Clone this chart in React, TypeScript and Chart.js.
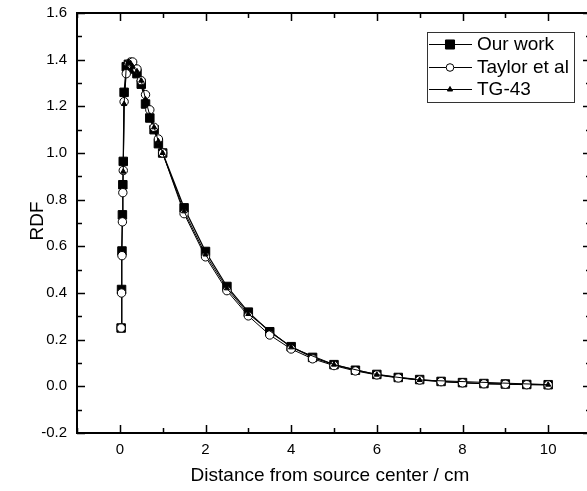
import React, { useEffect, useRef } from "react";
import { Chart, registerables } from "chart.js";
import { drawPoint } from "chart.js/helpers";
Chart.register(...registerables);

// ---- data ----
const distOur = [0.03, 0.04, 0.05, 0.06, 0.07, 0.08, 0.1, 0.15, 0.2, 0.25, 0.3, 0.4, 0.5, 0.6, 0.7, 0.8, 0.9, 1.0, 1.5, 2.0, 2.5, 3.0, 3.5, 4.0, 4.5, 5.0, 5.5, 6.0, 6.5, 7.0, 7.5, 8.0, 8.5, 9.0, 9.5, 10.0];
const rdfOur = [0.25, 0.415, 0.58, 0.735, 0.864, 0.964, 1.26, 1.37, 1.38, 1.375, 1.36, 1.34, 1.295, 1.21, 1.15, 1.1, 1.04, 1.0, 0.765, 0.578, 0.428, 0.318, 0.234, 0.17, 0.124, 0.093, 0.069, 0.051, 0.038, 0.029, 0.021, 0.016, 0.012, 0.01, 0.008, 0.007];

const distTaylor = [0.03, 0.04, 0.05, 0.06, 0.07, 0.08, 0.1, 0.15, 0.2, 0.25, 0.3, 0.4, 0.5, 0.6, 0.7, 0.8, 0.9, 1.0, 1.5, 2.0, 2.5, 3.0, 3.5, 4.0, 4.5, 5.0, 5.5, 6.0, 6.5, 7.0, 7.5, 8.0, 8.5, 9.0, 9.5, 10.0];
const rdfTaylor = [0.25, 0.4, 0.56, 0.705, 0.83, 0.925, 1.22, 1.34, 1.38, 1.39, 1.39, 1.36, 1.31, 1.25, 1.185, 1.11, 1.06, 1.0, 0.74, 0.555, 0.41, 0.302, 0.22, 0.16, 0.118, 0.089, 0.066, 0.049, 0.036, 0.027, 0.02, 0.015, 0.011, 0.009, 0.007, 0.006];

const distTG43 = [0.08, 0.1, 0.15, 0.2, 0.25, 0.3, 0.4, 0.5, 0.6, 0.7, 0.8, 0.9, 1.0, 1.5, 2.0, 2.5, 3.0, 4.0, 5.0, 6.0, 7.0, 10.0];
const rdfTG43 = [0.92, 1.21, 1.37, 1.39, 1.385, 1.37, 1.35, 1.31, 1.23, 1.16, 1.11, 1.05, 1.0, 0.75, 0.565, 0.42, 0.31, 0.167, 0.093, 0.05, 0.027, 0.007];

const seriesLabels = ["Our work", "Taylor et al", "TG-43"];
const xTitle = "Distance from source center / cm";
const yTitle = "RDF";
const xTickValues = [0, 2, 4, 6, 8, 10];
const xMinorValues = [-1, 1, 3, 5, 7, 9, 11];
const yTickValues = [-0.2, 0, 0.2, 0.4, 0.6, 0.8, 1.0, 1.2, 1.4, 1.6];
const yMinorValues = [-0.1, 0.1, 0.3, 0.5, 0.7, 0.9, 1.1, 1.3, 1.5];

const FONT = "'Liberation Sans', Arial, sans-serif";

const toXY = (xs: number[], ys: number[]) => xs.map((x, i) => ({ x, y: ys[i] }));

const frameTicksPlugin = {
  id: "frameTicks",
  beforeDatasetsDraw(chart: any) {
    const { ctx, chartArea: a, scales } = chart;
    const xs = scales.x;
    const ys = scales.y;
    ctx.save();
    ctx.strokeStyle = "#000";
    ctx.lineWidth = 1.5;
    const major = 8;
    const minor = 5;
    ctx.beginPath();
    const xt = (v: number, len: number) => {
      const px = Math.round(xs.getPixelForValue(v)) + 0.5;
      ctx.moveTo(px, a.bottom);
      ctx.lineTo(px, a.bottom - len);
      ctx.moveTo(px, a.top);
      ctx.lineTo(px, a.top + len);
    };
    const yt = (v: number, len: number) => {
      const py = Math.round(ys.getPixelForValue(v)) + 0.5;
      ctx.moveTo(a.left, py);
      ctx.lineTo(a.left + len, py);
      ctx.moveTo(a.right, py);
      ctx.lineTo(a.right - len, py);
    };
    xTickValues.forEach((v) => xt(v, major));
    xMinorValues.forEach((v) => xt(v, minor));
    yTickValues.forEach((v) => yt(v, major));
    yMinorValues.forEach((v) => yt(v, minor));
    ctx.stroke();
    ctx.lineWidth = 2;
    ctx.strokeRect(a.left, a.top, a.right - a.left, a.bottom - a.top);
    ctx.restore();
  },
  afterDraw(chart: any) {
    const { ctx } = chart;
    ctx.save();
    ctx.fillStyle = "#000";
    ctx.font = `19px ${FONT}`;
    ctx.textAlign = "center";
    ctx.textBaseline = "middle";
    ctx.fillText(xTitle, 330, 476);
    ctx.translate(38, 221);
    ctx.rotate(-Math.PI / 2);
    ctx.fillText(yTitle, 0, 0);
    ctx.restore();
  },
};

const boxLegendPlugin = {
  id: "boxLegend",
  afterDraw(chart: any) {
    const { ctx } = chart;
    const left = 427;
    const top = 32;
    const width = 147;
    const height = 70;
    ctx.save();
    ctx.fillStyle = "#fff";
    ctx.fillRect(left, top, width, height);
    ctx.strokeStyle = "#333";
    ctx.lineWidth = 1;
    ctx.strokeRect(left + 0.5, top + 0.5, width, height);
    const rowYs = [44, 67, 89];
    const legendRadius = [6.4, 3.8, 3];
    chart.data.datasets.forEach((ds: any, i: number) => {
      const y = rowYs[i];
      ctx.strokeStyle = "#000";
      ctx.lineWidth = 1;
      ctx.beginPath();
      ctx.moveTo(429, y + 0.5);
      ctx.lineTo(472, y + 0.5);
      ctx.stroke();
      ctx.fillStyle = ds.pointBackgroundColor;
      ctx.strokeStyle = "#000";
      ctx.lineWidth = 1;
      drawPoint(ctx, { pointStyle: ds.pointStyle, radius: legendRadius[i], rotation: 0, borderWidth: 1 }, 450, y + 0.5);
      ctx.fillStyle = "#000";
      ctx.font = `19px ${FONT}`;
      ctx.textBaseline = "middle";
      ctx.textAlign = "left";
      ctx.fillText(ds.label, 477, y + 1);
    });
    ctx.restore();
  },
};

export default function App() {
  const ref = useRef<HTMLCanvasElement | null>(null);
  useEffect(() => {
    if (!ref.current) return;
    const chart = new Chart(ref.current, {
      type: "line",
      data: {
        datasets: [
          {
            label: seriesLabels[0],
            data: toXY(distOur, rdfOur),
            borderColor: "#000",
            borderWidth: 1.3,
            pointStyle: "rect",
            pointRadius: 6,
            pointBackgroundColor: "#000",
            pointBorderColor: "#000",
            pointBorderWidth: 1,
            order: 3,
          },
          {
            label: seriesLabels[1],
            data: toXY(distTaylor, rdfTaylor),
            borderColor: "#000",
            borderWidth: 1,
            pointStyle: "circle",
            pointRadius: 4.2,
            pointBackgroundColor: "#fff",
            pointBorderColor: "#000",
            pointBorderWidth: 1,
            order: 2,
          },
          {
            label: seriesLabels[2],
            data: toXY(distTG43, rdfTG43),
            borderColor: "#000",
            borderWidth: 1,
            pointStyle: "triangle",
            pointRadius: 3,
            pointBackgroundColor: "#000",
            pointBorderColor: "#000",
            pointBorderWidth: 1,
            order: 1,
          },
        ],
      },
      options: {
        animation: false,
        responsive: false,
        devicePixelRatio: 1,
        events: [],
        layout: { padding: { left: 0, top: 13, right: 9, bottom: 0 } },
        plugins: { legend: { display: false }, tooltip: { enabled: false } },
        scales: {
          x: {
            type: "linear",
            min: -1,
            max: 11,
            afterBuildTicks: (s: any) => {
              s.ticks = xTickValues.map((v) => ({ value: v }));
            },
            afterFit: (s: any) => {
              s.height = 58;
              s.paddingLeft = 0;
              s.paddingRight = 0;
            },
            grid: { display: false, drawTicks: false },
            border: { display: false },
            ticks: { color: "#000", font: { family: FONT, size: 15 }, padding: 8, autoSkip: false, maxRotation: 0 },
          },
          y: {
            type: "linear",
            min: -0.2,
            max: 1.6,
            afterBuildTicks: (s: any) => {
              s.ticks = yTickValues.map((v) => ({ value: v }));
            },
            afterFit: (s: any) => {
              s.width = 77;
              s.paddingTop = 0;
              s.paddingBottom = 0;
            },
            grid: { display: false, drawTicks: false },
            border: { display: false },
            ticks: {
              color: "#000",
              font: { family: FONT, size: 15 },
              padding: 10,
              callback: (v: any) => Number(v).toFixed(1),
            },
          },
        },
      },
      plugins: [frameTicksPlugin, boxLegendPlugin],
    });
    return () => chart.destroy();
  }, []);
  return (
    <div style={{ position: "absolute", left: 0, top: 0, width: 587, height: 491, overflow: "hidden", background: "#fff" }}>
      <canvas ref={ref} width={600} height={491} style={{ display: "block" }} />
    </div>
  );
}
